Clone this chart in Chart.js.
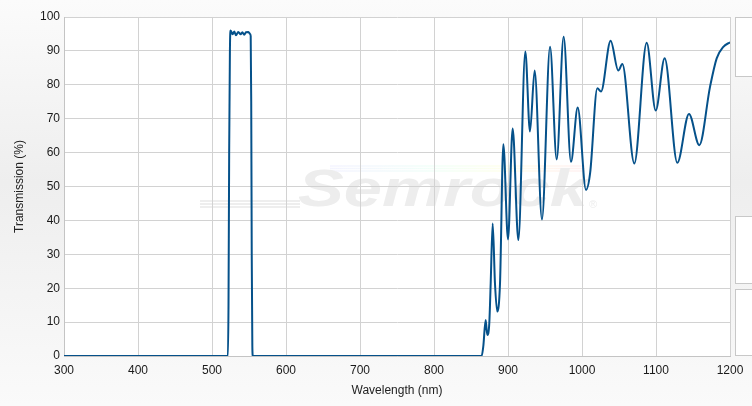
<!DOCTYPE html>
<html>
<head>
<meta charset="utf-8">
<title>Transmission</title>
<script src="https://cdn.jsdelivr.net/npm/chart.js@4.4.1/dist/chart.umd.min.js"></script>
<style>
	html, body {
		margin: 0;
		padding: 0;
	}
	body {
		width: 752px;
		height: 406px;
		overflow: hidden;
		position: relative;
		background: linear-gradient(to bottom, #fbfbfb 0%, #eeeeee 45%, #fafafa 100%);
	}
	.chart-wrap {
		position: absolute;
		left: 0;
		top: 0;
		width: 752px;
		height: 406px;
	}
	.panel {
		position: absolute;
		left: 735px;
		width: 40px;
		background: #fff;
		border: 1px solid #c8c8c8;
		box-sizing: border-box;
	}
</style>
</head>
<body>
<div class="panel" style="top:17px;height:60px;"></div>
<div class="panel" style="top:216px;height:68px;"></div>
<div class="panel" style="top:289px;height:67px;"></div>
<div class="chart-wrap"><canvas id="myChart"></canvas></div>
<script>
// wavelength (nm) and transmission (%)
const wavelengths = [
	300, 521.5, 522.3, 523.2, 524.2, 525.2, 527.9, 530.2, 532.4, 535.5, 538.7, 541, 543.5, 546, 549.2, 551.5, 552.3,
	553.0, 553.7, 554.5, 555.2,
	864.4, 866.6, 869.8, 872, 874.7, 876.6, 879.3, 882.4, 885.5, 889.2, 893.7, 900, 906.3, 914,
	923.4, 929.7, 936, 945.9, 956.8, 965.8, 975.2, 985.1, 994.2, 1005.4, 1011, 1020.7, 1025.7,
	1038.7, 1049, 1054.5, 1070.7, 1087.4, 1099.6, 1111.7, 1128.8, 1144.6, 1158.5, 1173, 1182, 1191, 1199, 1200,
];
const transmission = [
	0, 0, 15, 60, 90, 96.0, 94.9, 95.7, 94.6, 95.6, 94.9, 95.5, 94.8, 95.5, 95.6, 95.0, 94.4,
	75, 30, 3, 0,
	0, 2.8, 10.6, 6.2, 9.6, 21.4, 39.1, 21.4, 13.1, 21.4, 62.5, 34.4, 67.1, 34.2,
	89.8, 66.2, 84.2, 40.3, 91.2, 58, 94.2, 57.3, 73.3, 49, 54, 79, 78,
	93, 84.2, 86.1, 56.8, 92.4, 72.4, 87.8, 57, 71.4, 62.2, 79.4, 87.8, 91.2, 92.4, 92.5,
];

const xMin = 300;
const xMax = 1200;
const xStep = 100;
const yMin = 0;
const yMax = 100;
const yStep = 10;

const fontFamily = '"Liberation Sans", Arial, sans-serif';

// white plot area + faint watermark under the grid
const plotBackground = {
	id: 'plotBackground',
	beforeDraw: function (chart) {
		const { ctx, chartArea } = chart;
		ctx.save();
		ctx.fillStyle = '#ffffff';
		ctx.fillRect(chartArea.left, chartArea.top, chartArea.right - chartArea.left, chartArea.bottom - chartArea.top);

		// swoosh lines
		const grad = ctx.createLinearGradient(330, 0, 580, 0);
		grad.addColorStop(0, 'rgba(200,200,255,0.2)');
		grad.addColorStop(0.4, 'rgba(200,255,230,0.25)');
		grad.addColorStop(0.7, 'rgba(255,255,190,0.3)');
		grad.addColorStop(1, 'rgba(255,200,200,0.25)');
		ctx.strokeStyle = grad;
		ctx.lineWidth = 1.5;
		for (let i = 0; i < 3; i++) {
			ctx.beginPath();
			ctx.moveTo(330, 166 + i * 2.5);
			ctx.lineTo(585, 166 + i * 2.5);
			ctx.stroke();
		}
		ctx.strokeStyle = 'rgba(230,230,230,0.9)';
		ctx.lineWidth = 1.5;
		for (let i = 0; i < 3; i++) {
			ctx.beginPath();
			ctx.moveTo(200, 201 + i * 3);
			ctx.lineTo(300, 201 + i * 3);
			ctx.stroke();
		}

		ctx.fillStyle = '#ededed';
		ctx.font = 'italic bold 52px ' + fontFamily;
		ctx.textBaseline = 'alphabetic';
		ctx.translate(298, 206);
		ctx.scale(1.32, 1);
		ctx.fillText('Semrock', 0, 0);
		ctx.restore();

		ctx.save();
		ctx.fillStyle = '#ededed';
		ctx.font = '11px ' + fontFamily;
		ctx.fillText('®', 589, 208);
		ctx.restore();
	},
};

const createChart = function () {
	const points = [];
	for (let i = 0; i < wavelengths.length; i++) {
		points.push({ x: wavelengths[i], y: transmission[i] });
	}

	const data = {
		datasets: [
			{
				label: 'Transmission',
				data: points,
				borderColor: '#05518a',
				backgroundColor: '#05518a',
				borderWidth: 2,
				pointRadius: 0,
				cubicInterpolationMode: 'monotone',
				fill: false,
			},
		],
	};

	const config = {
		type: 'line',
		data: data,
		plugins: [plotBackground],
		options: {
			responsive: true,
			maintainAspectRatio: false,
			animation: false,
			layout: {
				padding: { top: 17, right: 22, left: 0, bottom: 0 },
			},
			plugins: {
				legend: { display: false },
				tooltip: { enabled: false },
			},
			scales: {
				x: {
					type: 'linear',
					min: xMin,
					max: xMax,
					ticks: {
						stepSize: xStep,
						padding: 7,
						color: '#1a1a1a',
						font: { family: fontFamily, size: 12 },
						maxRotation: 0,
						callback: function (value) {
							return String(value);
						},
					},
					grid: { color: '#d2d2d2', drawTicks: false },
					border: { color: '#c4c4c4' },
					title: {
						display: true,
						text: 'Wavelength (nm)',
						color: '#222',
						font: { family: fontFamily, size: 12 },
						padding: { top: 4, bottom: 8 },
					},
					afterFit: function (scale) {
						scale.height = 50;
					},
				},
				y: {
					min: yMin,
					max: yMax,
					ticks: {
						stepSize: yStep,
						padding: 4,
						color: '#1a1a1a',
						font: { family: fontFamily, size: 12 },
					},
					grid: { color: '#d2d2d2', drawTicks: false },
					border: { color: '#c4c4c4' },
					title: {
						display: true,
						text: 'Transmission (%)',
						color: '#222',
						font: { family: fontFamily, size: 12 },
						padding: { top: 12, bottom: 4 },
					},
					afterFit: function (scale) {
						scale.width = 64;
					},
				},
			},
		},
	};

	const ctx = document.getElementById('myChart');
	const myChart = new Chart(ctx, config);
};

const init = function () {
	createChart();
};
document.addEventListener('DOMContentLoaded', init);
</script>
</body>
</html>
